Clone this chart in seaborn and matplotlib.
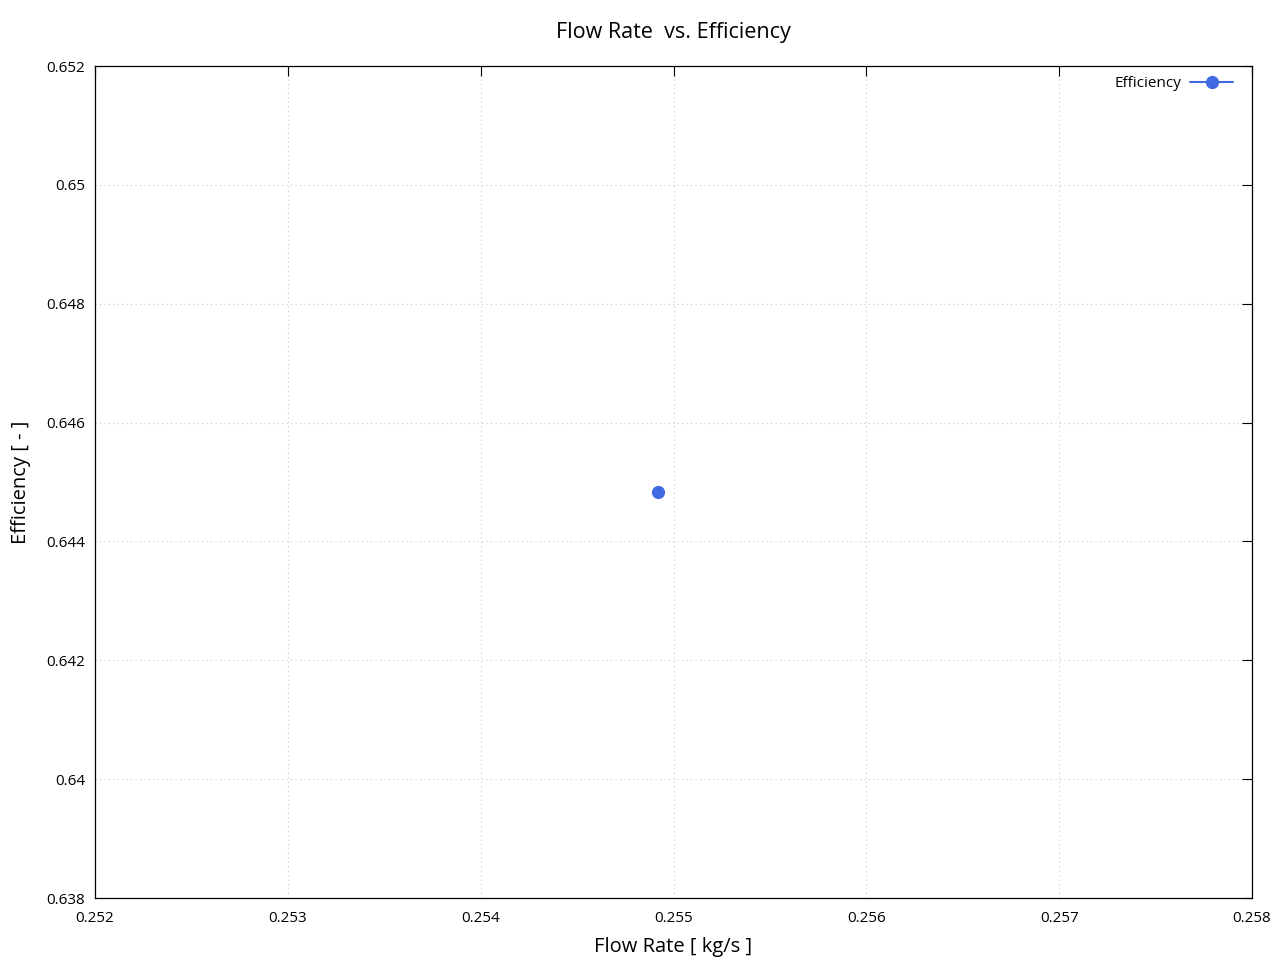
import matplotlib
matplotlib.use("Agg")
import matplotlib.pyplot as plt
import seaborn as sns
import pandas as pd
from matplotlib.ticker import FuncFormatter

flow_rate = [0.25492]
efficiency = [0.64483]

x_ticks = [0.252, 0.253, 0.254, 0.255, 0.256, 0.257, 0.258]
y_ticks = [0.638, 0.640, 0.642, 0.644, 0.646, 0.648, 0.650, 0.652]

sns.set_style("white")
plt.rcParams["font.family"] = ["Open Sans", "DejaVu Sans"]
plt.rcParams["text.color"] = "black"
plt.rcParams["axes.labelcolor"] = "black"
plt.rcParams["xtick.color"] = "black"
plt.rcParams["ytick.color"] = "black"

df = pd.DataFrame({"flow_rate": flow_rate, "efficiency": efficiency})

fig = plt.figure(figsize=(12.8, 9.6), dpi=100)
ax = fig.add_axes([95 / 1280, 62 / 960, 1157 / 1280, 832 / 960])

sns.lineplot(data=df, x="flow_rate", y="efficiency", ax=ax, color="#4169e1",
             marker="o", markersize=9.5, markeredgewidth=0, linewidth=1.5,
             label="Efficiency")

ax.set_xlim(0.252, 0.258)
ax.set_ylim(0.638, 0.652)
ax.set_xticks(x_ticks)
ax.set_yticks(y_ticks)
fmt = FuncFormatter(lambda v, p: f"{v:.3f}".rstrip("0"))
ax.xaxis.set_major_formatter(fmt)
ax.yaxis.set_major_formatter(fmt)
ax.tick_params(direction="in", length=7, width=0.8, top=True, right=True,
               labelsize=11)
ax.tick_params(axis="x", pad=9)
ax.tick_params(axis="y", pad=7)
ax.grid(True, linestyle=(0, (1, 3)), color="#c8c8c8", linewidth=0.8)
for s in ax.spines.values():
    s.set_linewidth(0.9)
    s.set_color("black")

ax.set_title("Flow Rate  vs. Efficiency", fontsize=15.5, pad=20)
ax.set_xlabel("Flow Rate [ kg/s ]", fontsize=14.5, labelpad=8)
ax.set_ylabel("Efficiency [ - ]", fontsize=14.5, labelpad=11)

leg = ax.legend(loc="upper right", frameon=False, markerfirst=False,
                fontsize=11, handlelength=2.8, handletextpad=0.6,
                borderaxespad=0,
                bbox_to_anchor=(1 - 13 / 1157, 1 - 4 / 832))

plt.savefig("out.png", dpi=100)
plt.close()
